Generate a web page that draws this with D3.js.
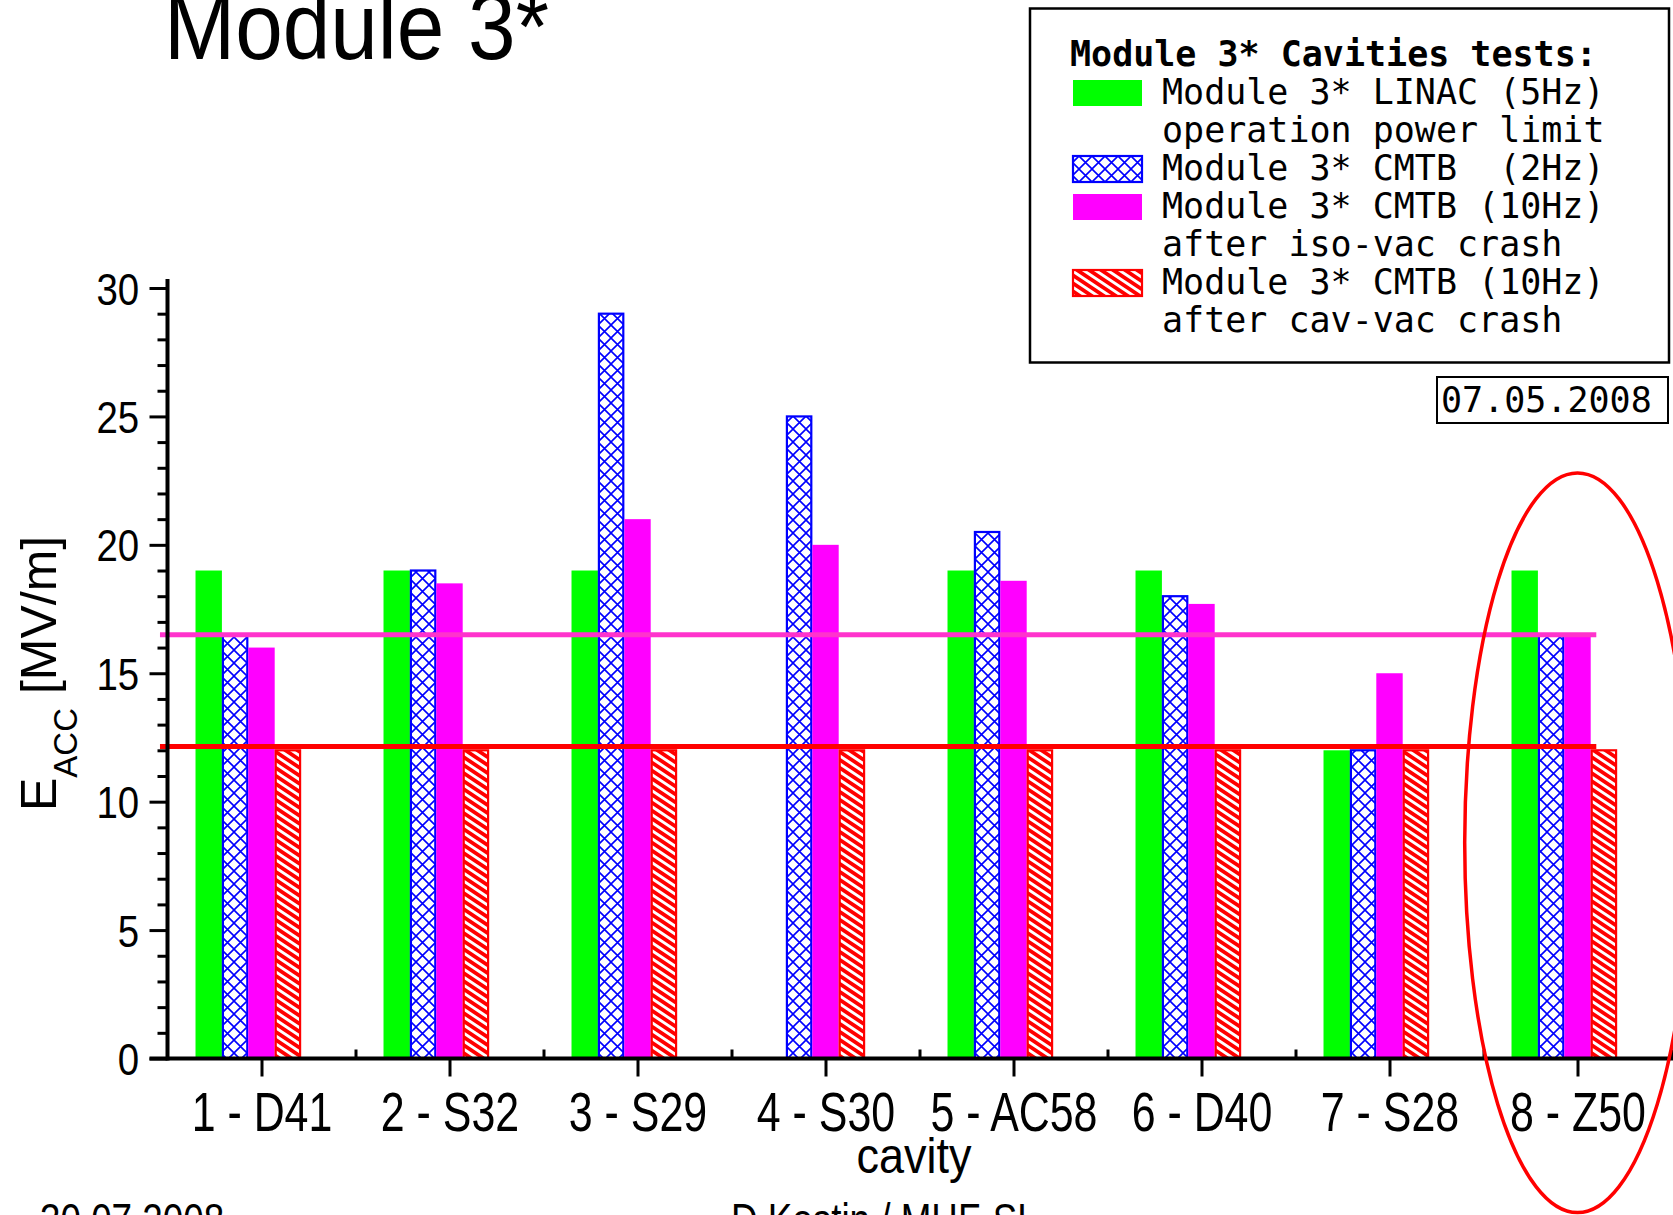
<!DOCTYPE html>
<html>
<head>
<meta charset="utf-8">
<script src="https://cdn.jsdelivr.net/npm/d3@7"></script>
<style>
	body { margin: 0; background: #fff; }
	svg { display: block; }
</style>
</head>
<body>
<script>
'use strict';

// Cavity test results, Module 3*
const categories = ["1 - D41", "2 - S32", "3 - S29", "4 - S30", "5 - AC58", "6 - D40", "7 - S28", "8 - Z50"];
const linac5Hz   = [19, 19, 19, null, 19, 19, 12, 19];
const cmtb2Hz    = [16.5, 19, 29, 25, 20.5, 18, 12, 16.5];
const isoVac10Hz = [16, 18.5, 21, 20, 18.6, 17.7, 15, 16.5];
const cavVac10Hz = [12, 12, 12, 12, 12, 12, 12, 12];

// horizontal limit lines (E_acc) and their x extent in category units
const limitValues = [16.5, 12.15];
const limitExtent = [0.46, 8.1];

const yMajorTicks = [0, 5, 10, 15, 20, 25, 30];
const yMinorTicks = d3.range(0, 31, 1).filter(v => v % 5 !== 0);
const xMajorTicks = [1, 2, 3, 4, 5, 6, 7, 8];
const xMinorTicks = [1.5, 2.5, 3.5, 4.5, 5.5, 6.5, 7.5, 8.5];

// highlighted cavity (red ellipse), in data units
const highlightCategory = 8;
const highlightRange = [-6, 22.8];

const legendTitle = "Module 3* Cavities tests:";
const legendLabels = [
	["Module 3* LINAC (5Hz)", "operation power limit"],
	["Module 3* CMTB  (2Hz)"],
	["Module 3* CMTB (10Hz)", "after iso-vac crash"],
	["Module 3* CMTB (10Hz)", "after cav-vac crash"]
];
const dateLabel = "07.05.2008";
const footerLeft = "30.07.2008";
const footerMid = "D.Kostin / MHF-SL";

const params = {
	width: 1673,
	height: 1215,
	slot: 0.1404,
	sans: "'Liberation Sans', Arial, sans-serif",
	mono: "'DejaVu Sans Mono', 'Liberation Mono', monospace"
};

const series = [
	{ values: linac5Hz, fill: "#00ff00", stroke: null },
	{ values: cmtb2Hz, fill: "url(#cross)", stroke: "#0000ff" },
	{ values: isoVac10Hz, fill: "#ff00ff", stroke: null },
	{ values: cavVac10Hz, fill: "url(#hatch)", stroke: "#ff0000" }
];

const svg = d3.select("body").append("svg")
	.attr("width", params.width)
	.attr("height", params.height);

// patterns for the hatched bars
const defs = svg.append("defs");
const cross = defs.append("pattern")
	.attr("id", "cross").attr("patternUnits", "userSpaceOnUse")
	.attr("width", 13).attr("height", 13);
cross.append("rect").attr("width", 13).attr("height", 13).attr("fill", "#fff");
cross.append("path").attr("d", "M0,0L13,13M0,13L13,0")
	.attr("stroke", "#0000ff").attr("stroke-width", 1.6).attr("fill", "none");

// shallow "\" stripes: 12 wide, 8 tall per repeat
const hatch = defs.append("pattern")
	.attr("id", "hatch").attr("patternUnits", "userSpaceOnUse")
	.attr("width", 12).attr("height", 8);
hatch.append("rect").attr("width", 12).attr("height", 8).attr("fill", "#fff");
hatch.append("path").attr("d", "M-6,-12L18,4M-6,-4L18,12M-6,4L18,20")
	.attr("stroke", "#ff0000").attr("stroke-width", 3.8).attr("fill", "none");

const xScale = d3.scaleLinear().domain([0.5, 8.5]).range([167.5, 1671.5]);
const yScale = d3.scaleLinear().domain([0, 30]).range([1058.5, 288]);

// bars
series.forEach((s, si) => {
	svg.append("g").selectAll("rect")
		.data(s.values.map((v, i) => ({ v, c: i + 1 })).filter(d => d.v !== null))
		.join("rect")
		.attr("x", d => xScale(d.c + (si - 2.5) * params.slot) + (s.stroke ? 1 : 0))
		.attr("width", d => xScale(d.c + (si - 1.5) * params.slot) - xScale(d.c + (si - 2.5) * params.slot) - (s.stroke ? 2 : 0))
		.attr("y", d => yScale(d.v))
		.attr("height", d => yScale(0) - yScale(d.v))
		.attr("fill", s.fill)
		.attr("stroke", s.stroke || "none")
		.attr("stroke-width", 2.2);
});

// limit lines
const limitColors = ["#ff33cc", "#ff0000"];
svg.append("g").selectAll("line")
	.data(limitValues)
	.join("line")
	.attr("x1", xScale(limitExtent[0]))
	.attr("x2", xScale(limitExtent[1]))
	.attr("y1", d => yScale(d))
	.attr("y2", d => yScale(d))
	.attr("stroke", (d, i) => limitColors[i])
	.attr("stroke-width", 5);

// axes
const yAxis = svg.append("g").attr("transform", `translate(${xScale(0.5)},0)`);
yAxis.append("g")
	.call(d3.axisLeft(yScale).tickValues(yMinorTicks).tickSize(10).tickFormat(""))
	.call(g => g.select(".domain").remove());
yAxis.append("g")
	.call(d3.axisLeft(yScale).tickValues(yMajorTicks).tickSize(18).tickSizeOuter(0))
	.call(g => g.select(".domain").remove())
	.call(g => g.selectAll("text")
		.attr("x", -33).attr("dy", "0.36em")
		.attr("transform", "scale(0.86,1)")
		.attr("font-family", params.sans).attr("font-size", 44.7).attr("fill", "#000"));
yAxis.selectAll(".tick line").attr("stroke", "#000").attr("stroke-width", 3);
yAxis.append("line")
	.attr("y1", yScale(30.35)).attr("y2", yScale(0) + 2)
	.attr("stroke", "#000").attr("stroke-width", 4);

const xAxis = svg.append("g").attr("transform", `translate(0,${yScale(0)})`);
xAxis.append("g")
	.call(d3.axisTop(xScale).tickValues(xMinorTicks).tickSize(9).tickFormat(""))
	.call(g => g.select(".domain").remove());
xAxis.append("g")
	.call(d3.axisBottom(xScale).tickValues(xMajorTicks).tickSize(18)
		.tickFormat(d => categories[d - 1]))
	.call(g => g.select(".domain").remove())
	.call(g => g.selectAll("text")
		.attr("y", 72.5).attr("dy", 0)
		.attr("transform", "scale(0.78,1)")
		.attr("font-family", params.sans).attr("font-size", 55).attr("fill", "#000"));
xAxis.selectAll(".tick line").attr("stroke", "#000").attr("stroke-width", 3);
xAxis.append("line")
	.attr("x1", xScale(0.5) - 18).attr("x2", params.width)
	.attr("stroke", "#000").attr("stroke-width", 4);

// axis titles
svg.append("text")
	.attr("transform", "translate(914,1173) scale(0.9,1)")
	.attr("text-anchor", "middle")
	.attr("font-family", params.sans).attr("font-size", 50)
	.text("cavity");

const yTitle = svg.append("text")
	.attr("transform", "translate(55.5,811) rotate(-90)")
	.attr("font-family", params.sans).attr("font-size", 50);
yTitle.append("tspan").text("E");
yTitle.append("tspan").attr("font-size", 33).attr("dy", 21).text("ACC");
yTitle.append("tspan").attr("dy", -21).text(" [MV/m]");

// title
svg.append("text")
	.attr("transform", "translate(164,59) scale(0.9,1)")
	.attr("font-family", params.sans).attr("font-size", 95)
	.text("Module 3*");

// highlight ellipse
svg.append("ellipse")
	.attr("cx", xScale(highlightCategory))
	.attr("cy", (yScale(highlightRange[0]) + yScale(highlightRange[1])) / 2)
	.attr("rx", xScale(highlightCategory + 0.6) - xScale(highlightCategory))
	.attr("ry", (yScale(highlightRange[0]) - yScale(highlightRange[1])) / 2)
	.attr("fill", "none").attr("stroke", "#ff0000").attr("stroke-width", 3.5);

// legend
const legend = svg.append("g");
legend.append("rect")
	.attr("x", 1030).attr("y", 8.5).attr("width", 639).attr("height", 354)
	.attr("fill", "#fff").attr("stroke", "#000").attr("stroke-width", 2.5);
legend.append("text")
	.attr("x", 1070).attr("y", 66)
	.attr("font-family", params.mono).attr("font-size", 35).attr("font-weight", "bold")
	.text(legendTitle);

let row = 1;
legendLabels.forEach((lines, i) => {
	const base = 66 + row * 38;
	legend.append("rect")
		.attr("x", 1073).attr("y", base - 24).attr("width", 69).attr("height", 26)
		.attr("fill", series[i].fill)
		.attr("stroke", series[i].stroke || "none").attr("stroke-width", 2.2);
	lines.forEach((t, j) => {
		legend.append("text")
			.attr("x", 1162).attr("y", 66 + (row + j) * 38)
			.attr("font-family", params.mono).attr("font-size", 35)
			.attr("xml:space", "preserve")
			.style("white-space", "pre")
			.text(t);
	});
	row += lines.length;
});

// date box
svg.append("rect")
	.attr("x", 1437).attr("y", 377).attr("width", 231).attr("height", 46)
	.attr("fill", "#fff").attr("stroke", "#000").attr("stroke-width", 2);
svg.append("text")
	.attr("x", 1441).attr("y", 412)
	.attr("font-family", params.mono).attr("font-size", 35)
	.text(dateLabel);

// footer (cut off at the bottom edge)
svg.append("text")
	.attr("transform", "translate(40,1236) scale(0.8,1)")
	.attr("font-family", params.sans).attr("font-size", 46)
	.text(footerLeft);
svg.append("text")
	.attr("transform", "translate(731,1236) scale(0.8,1)")
	.attr("font-family", params.sans).attr("font-size", 46)
	.text(footerMid);
</script>
</body>
</html>
